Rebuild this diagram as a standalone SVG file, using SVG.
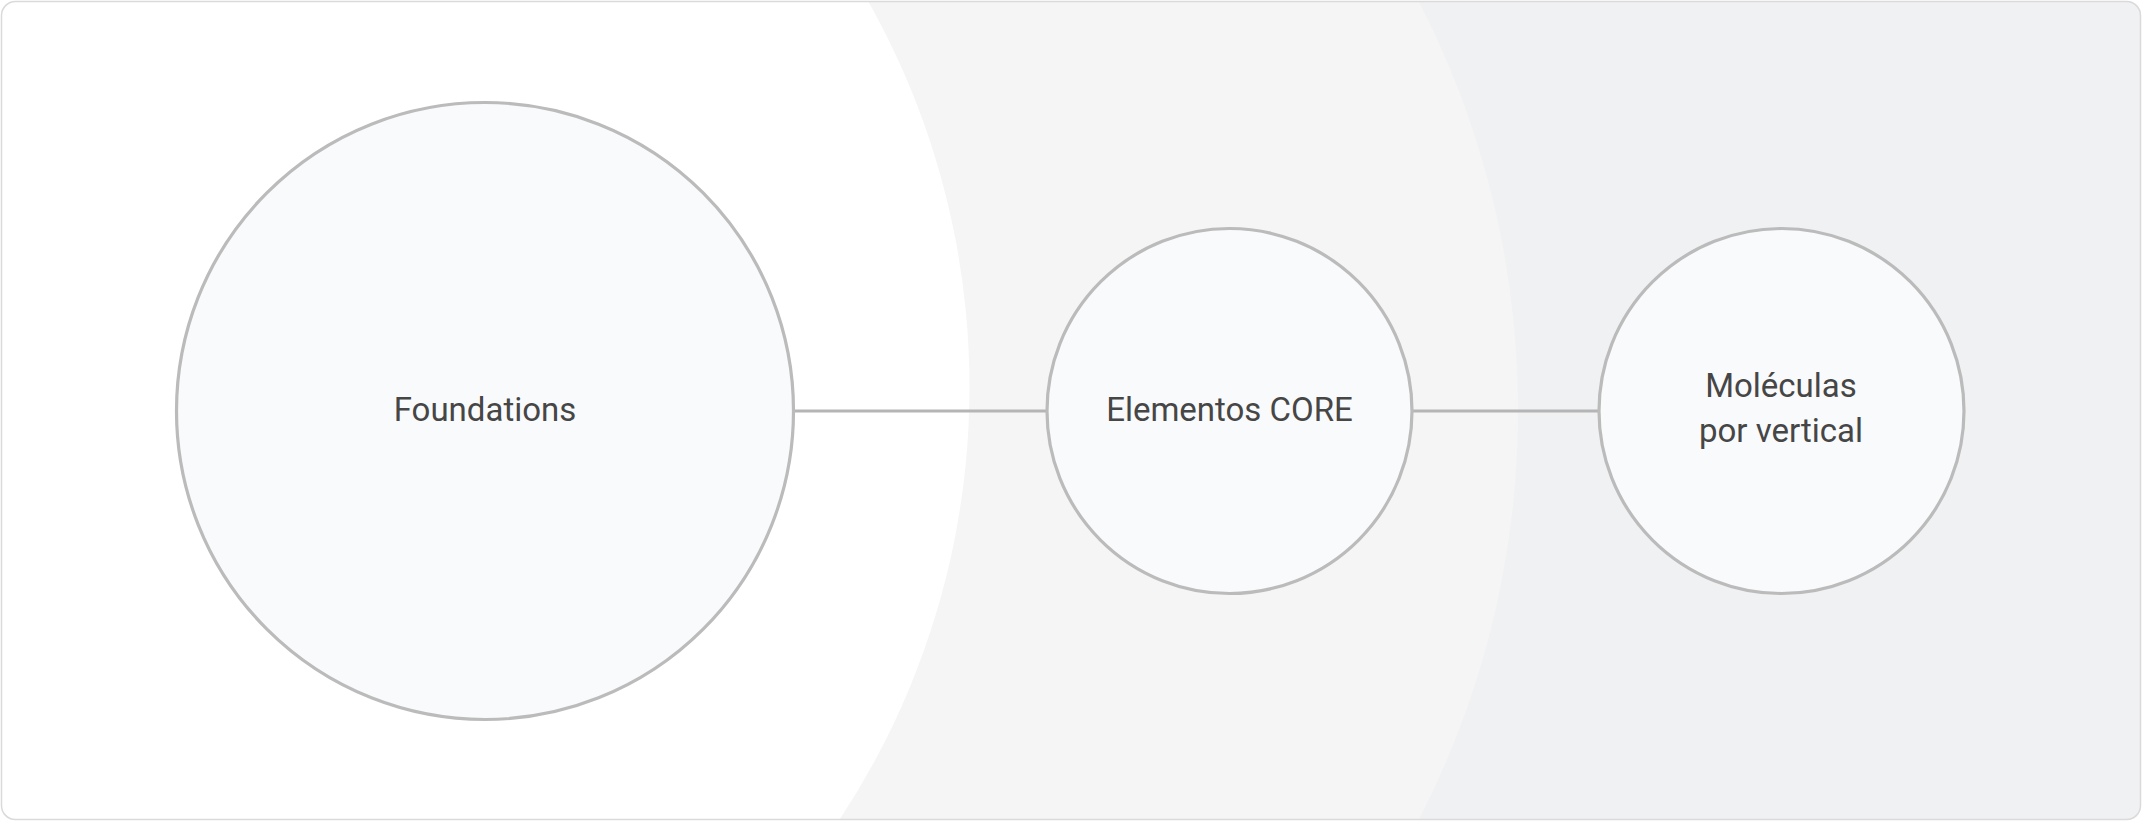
<svg xmlns="http://www.w3.org/2000/svg" width="2142" height="821" viewBox="0 0 2142 821">
  <style>
    .node { fill: #f9fafc; stroke: #bbbbbb; stroke-width: 3.2; }
    .edge { stroke: #b5b5b5; stroke-width: 3; fill: none; }
    .label { font-family: Roboto, "Liberation Sans", sans-serif; font-size: 33px; fill: #464646; text-anchor: middle; }
  </style>
  <defs>
    <clipPath id="frameClip">
      <rect x="1" y="1" width="2140" height="819" rx="14" ry="14"/>
    </clipPath>
  </defs>
  <g id="background" clip-path="url(#frameClip)">
    <rect x="0" y="0" width="2142" height="821" fill="#f0f1f3"/>
    <circle cx="625" cy="410.5" r="893" fill="#f5f5f5"/>
    <circle cx="184.5" cy="387" r="785" fill="#ffffff"/>
  </g>
  <rect id="frame" x="1.5" y="1.5" width="2139" height="818" rx="14" ry="14" fill="none" stroke="#dadada" stroke-width="1.5"/>
  <g id="connectors">
    <line class="edge" x1="793.5" y1="411" x2="1047" y2="411"/>
    <line class="edge" x1="1412" y1="411" x2="1599" y2="411"/>
  </g>
  <g id="node-foundations">
    <circle class="node" cx="485" cy="411" r="308.5"/>
    <text class="label" x="485" y="421">Foundations</text>
  </g>
  <g id="node-elementos-core">
    <circle class="node" cx="1229.5" cy="411" r="182.5"/>
    <text class="label" x="1229.5" y="421">Elementos CORE</text>
  </g>
  <g id="node-moleculas">
    <circle class="node" cx="1781.5" cy="411" r="182.5"/>
    <text class="label" x="1781" y="397">Moléculas</text>
    <text class="label" x="1781" y="442">por vertical</text>
  </g>
</svg>
